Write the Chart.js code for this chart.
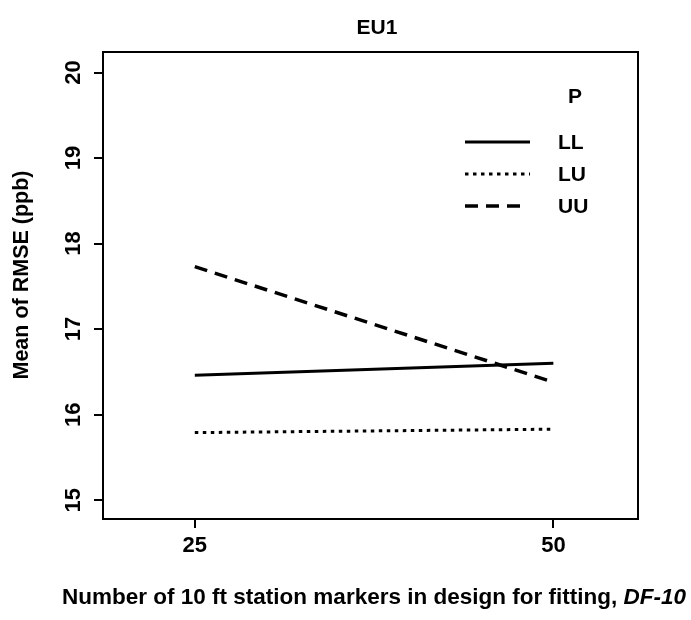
<!DOCTYPE html>
<html>
<head>
<meta charset="utf-8">
<title>EU1</title>
<script src="https://cdn.jsdelivr.net/npm/chart.js@4.4.1/dist/chart.umd.min.js"></script>
<style>
  html, body { margin: 0; padding: 0; background: #fff; }
  canvas { display: block; }
</style>
</head>
<body>
<canvas id="chart" width="691" height="620"></canvas>
<script>
// mean RMSE by design size, one line per P level
const designSizes = [25, 50];
const seriesNames = ['LL', 'LU', 'UU'];
const rmseLL = [16.46, 16.60];
const rmseLU = [15.79, 15.83];
const rmseUU = [17.73, 16.38];
const xTickValues = [25, 50];
const yTickValues = [15, 16, 17, 18, 19, 20];

const FONT = '"Liberation Sans", Arial, Helvetica, sans-serif';
const INK = '#000';

const lineStyles = {
  LL: { dash: [], width: 3 },
  LU: { dash: [3.5, 4.5], width: 3 },
  UU: { dash: [13, 8], width: 3.5 }
};

function toPoints(values) {
  return designSizes.map((x, i) => ({ x: x, y: values[i] }));
}

const allSeries = [rmseLL, rmseLU, rmseUU];

// frame, titles and the in-plot key
const decorations = {
  id: 'decorations',
  afterDraw(chart) {
    const { ctx, chartArea: a } = chart;
    ctx.save();
    ctx.strokeStyle = INK;
    ctx.lineWidth = 2;
    ctx.strokeRect(a.left, a.top, a.right - a.left, a.bottom - a.top);

    ctx.fillStyle = INK;
    ctx.textBaseline = 'middle';
    ctx.textAlign = 'center';
    ctx.font = 'bold 21px ' + FONT;
    ctx.fillText('EU1', 377, 28);

    // y caption, reading upwards
    ctx.save();
    ctx.translate(22, 275);
    ctx.rotate(-Math.PI / 2);
    ctx.font = 'bold 21.5px ' + FONT;
    ctx.fillText('Mean of RMSE (ppb)', 0, 0);
    ctx.restore();

    // x caption with the italic symbol at the end
    const plain = 'Number of 10 ft station markers in design for fitting, ';
    const sym = 'DF-10';
    ctx.font = 'bold 22.5px ' + FONT;
    const w1 = ctx.measureText(plain).width;
    ctx.font = 'italic bold 22.5px ' + FONT;
    const w2 = ctx.measureText(sym).width;
    const x0 = 374 - (w1 + w2) / 2;
    ctx.textAlign = 'left';
    ctx.font = 'bold 22.5px ' + FONT;
    ctx.fillText(plain, x0, 598);
    ctx.font = 'italic bold 22.5px ' + FONT;
    ctx.fillText(sym, x0 + w1, 598);

    // key
    ctx.font = 'bold 21px ' + FONT;
    ctx.textAlign = 'center';
    ctx.fillText('P', 575, 97);
    ctx.textAlign = 'left';
    chart.data.datasets.forEach((ds, i) => {
      const y = 142 + i * 32;
      ctx.beginPath();
      ctx.setLineDash(ds.borderDash);
      ctx.lineWidth = ds.borderWidth;
      ctx.moveTo(465, y);
      ctx.lineTo(i === 2 ? 521 : 530, y);
      ctx.stroke();
      ctx.setLineDash([]);
      ctx.fillText(ds.label, 558, y + 1);
    });
    ctx.restore();
  }
};

new Chart(document.getElementById('chart'), {
  type: 'line',
  data: {
    datasets: seriesNames.map((name, i) => ({
      label: name,
      data: toPoints(allSeries[i]),
      borderColor: INK,
      borderWidth: lineStyles[name].width,
      borderDash: lineStyles[name].dash,
      borderCapStyle: 'butt',
      pointRadius: 0,
      fill: false,
      tension: 0
    }))
  },
  options: {
    responsive: false,
    devicePixelRatio: 1,
    animation: false,
    layout: { padding: { top: 52, right: 53, bottom: 0, left: 0 } },
    plugins: {
      legend: { display: false },
      title: { display: false },
      tooltip: { enabled: false }
    },
    scales: {
      x: {
        type: 'linear',
        min: 18.6,
        max: 55.9,
        afterBuildTicks: s => { s.ticks = xTickValues.map(v => ({ value: v })); },
        afterFit: s => { s.height = 101; },
        border: { display: false },
        grid: { drawOnChartArea: false, drawTicks: true, tickLength: 9, color: INK, lineWidth: 2 },
        ticks: { color: INK, font: { family: FONT, size: 22, weight: 'bold' }, padding: 5, maxRotation: 0 }
      },
      y: {
        type: 'linear',
        min: 14.78,
        max: 20.24,
        afterBuildTicks: s => { s.ticks = yTickValues.map(v => ({ value: v })); },
        afterFit: s => { s.width = 103; },
        border: { display: false },
        grid: { drawOnChartArea: false, drawTicks: true, tickLength: 9, color: INK, lineWidth: 2 },
        ticks: {
          color: INK,
          font: { family: FONT, size: 22, weight: 'bold' },
          padding: 8,
          minRotation: 90,
          maxRotation: 90,
          crossAlign: 'center'
        }
      }
    }
  },
  plugins: [decorations]
});
</script>
</body>
</html>
